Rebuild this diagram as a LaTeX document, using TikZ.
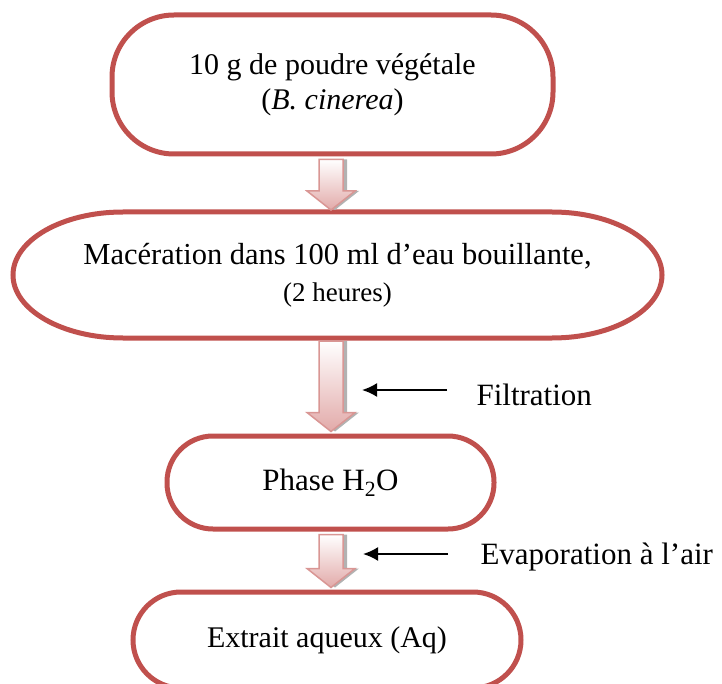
\documentclass[tikz,border=0pt]{standalone}
\usepackage{fontspec}
\setmainfont{Liberation Serif}
\usepackage{tikz}
\usetikzlibrary{calc,arrows.meta}
\usepackage{xcolor}
\definecolor{boxred}{HTML}{C0504D}
\definecolor{arrowpink}{HTML}{E2AAA9}
\definecolor{arrowedge}{HTML}{D99694}
\newcommand{\blocfleche}[2]{%
 \fill[black!30,shift={(4,-4)}] let \p1=(#1.south), \p2=(#2.north) in (319,\y1-3)--(343,\y1-3)--(343,\y2+21)--(355,\y2+21)--(331,\y2+2)--(307,\y2+21)--(319,\y2+21)--cycle;
 \draw[arrowedge,line width=1.5pt,top color=white,bottom color=arrowpink] let \p1=(#1.south), \p2=(#2.north) in (319,\y1-3)--(343,\y1-3)--(343,\y2+21)--(355,\y2+21)--(331,\y2+2)--(307,\y2+21)--(319,\y2+21)--cycle;
}

\begin{document}
\begin{tikzpicture}[x=1pt,y=1pt,
 etape/.style={draw=boxred,line width=5pt,align=center,inner sep=0pt,font=\fontsize{30}{35}\selectfont},
 legende/.style={anchor=west,font=\fontsize{31}{36}\selectfont},
 fleche/.style={->,line width=2pt,>={Latex[length=15pt,width=14pt]}}]
\useasboundingbox (0,0) rectangle (722,-684);
\clip (0,0) rectangle (722,-684);
\node[etape,rounded corners=62pt,minimum width=441pt,minimum height=139pt] (poudre) at (332.5,-84.5)
 {10 g de poudre végétale\\(\textit{B. cinerea})};
\node[etape,draw=none,minimum width=644pt,minimum height=121pt,font=\fontsize{30.5}{37}\selectfont] (macer) at (337.5,-275)
 {Macération dans 100 ml d’eau bouillante,\\{\fontsize{27}{32}\selectfont(2 heures)}};
\draw[boxred,line width=5pt] (macer.north)--([xshift=-110pt]macer.north east)
 arc[start angle=90,end angle=-90,x radius=110pt,y radius=63pt]
 --([xshift=110pt]macer.south west)
 arc[start angle=270,end angle=90,x radius=110pt,y radius=63pt]--cycle;
\node[etape,rounded corners=46pt,minimum width=327pt,minimum height=93pt,font=\fontsize{31}{36}\selectfont] (phase) at (330.5,-482.5)
 {Phase H\textsubscript{2}O};
\node[etape,rounded corners=48pt,minimum width=388pt,minimum height=96pt] (extrait) at (327,-640)
 {Extrait aqueux (Aq)};
\blocfleche{poudre}{macer}
\blocfleche{macer}{phase}
\blocfleche{phase}{extrait}
\node[legende] (filt) at (473,-395) {Filtration};
\node[legende] (evap) at (477,-557) {Evaporation à l’air};
\coordinate (f1) at (447,-390);
\coordinate (f2) at (362,-390);
\coordinate (e1) at (448,-554);
\coordinate (e2) at (363,-554);
\draw[fleche] (f1)--(f2);
\draw[fleche] (e1)--(e2);
\end{tikzpicture}
\end{document}
